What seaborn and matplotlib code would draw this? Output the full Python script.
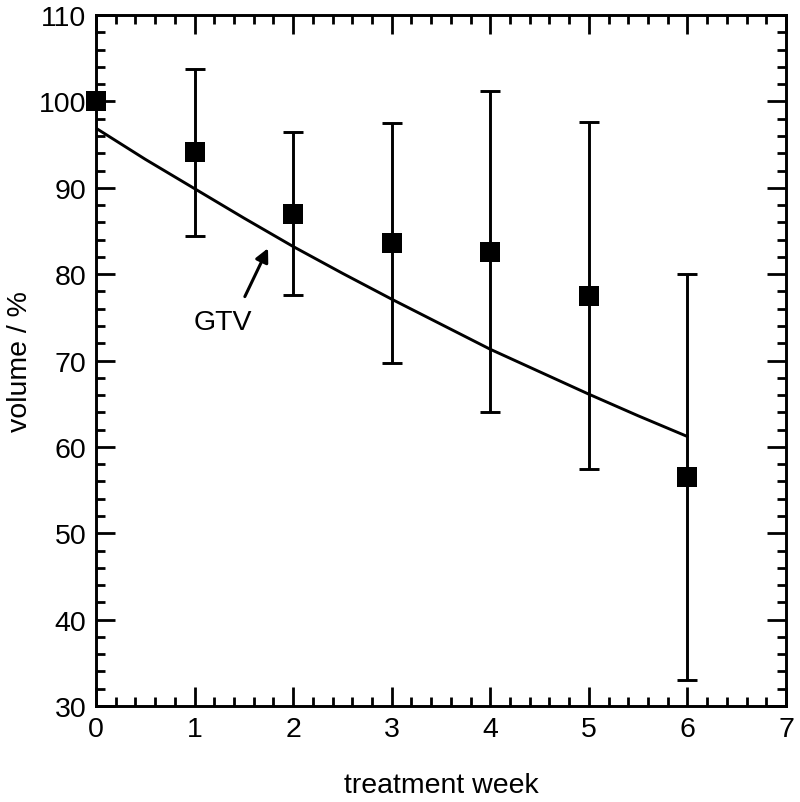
import numpy as np
import pandas as pd
import matplotlib
matplotlib.use("Agg")
import matplotlib.pyplot as plt
import seaborn as sns
from matplotlib.ticker import MultipleLocator

# measured GTV volume per treatment week (mean and +/- spread)
weeks = [0, 1, 2, 3, 4, 5, 6]
volume = [100.0, 94.1, 87.0, 83.6, 82.6, 77.5, 56.5]
spread = [0.0, 9.7, 9.45, 13.85, 18.6, 20.1, 23.5]

# fitted curve
fit_weeks = [0, 0.5, 1, 1.5, 2, 2.5, 3, 3.5, 4, 4.5, 5, 5.5, 6]
fit_volume = [96.9, 93.3, 89.9, 86.5, 83.2, 80.1, 77.1, 74.2, 71.3, 68.7, 66.1, 63.6, 61.2]

df = pd.DataFrame({"week": weeks, "volume": volume, "spread": spread})
fit = pd.DataFrame({"week": fit_weeks, "volume": fit_volume})

sns.set_style("ticks", {"text.color": "black", "axes.labelcolor": "black",
                        "xtick.color": "black", "ytick.color": "black",
                        "axes.edgecolor": "black"})
plt.rcParams["font.family"] = ["Liberation Sans", "DejaVu Sans"]

fig = plt.figure(figsize=(8, 8.03), dpi=100)
ax = fig.add_axes([0.12, 0.1196, 0.8625, 0.8604])

sns.lineplot(data=fit, x="week", y="volume", ax=ax, color="black", linewidth=2.1)

# error bars (week 0 has none)
err = df[df["spread"] > 0]
ax.errorbar(err["week"], err["volume"], yerr=err["spread"], fmt="none",
            ecolor="black", elinewidth=2.1, capsize=7, capthick=2.1)

sns.scatterplot(data=df, x="week", y="volume", ax=ax, marker="s", s=196,
                color="black", linewidth=0, zorder=5, clip_on=False)

# label with arrow pointing at the curve
ax.text(1.29, 74.5, "GTV", fontsize=20.5, ha="center", va="center", color="black")
ax.annotate("", xy=(1.745, 83.0), xytext=(1.51, 77.4),
            arrowprops=dict(arrowstyle="-|>", color="black", lw=2.2,
                            mutation_scale=20, shrinkA=0, shrinkB=0))

ax.set_xlim(0, 7)
ax.set_ylim(30, 110)
ax.xaxis.set_major_locator(MultipleLocator(1))
ax.xaxis.set_minor_locator(MultipleLocator(0.2))
ax.yaxis.set_major_locator(MultipleLocator(10))
ax.yaxis.set_minor_locator(MultipleLocator(2))

ax.tick_params(which="both", direction="in", top=True, right=True,
               width=2.0, labelsize=20.5, pad=7, colors="black")
ax.tick_params(which="major", length=13.5)
ax.tick_params(which="minor", length=6.5)
for sp in ax.spines.values():
    sp.set_linewidth(2.1)
    sp.set_color("black")

ax.set_xlabel("treatment week", fontsize=20.5, labelpad=22)
ax.set_ylabel("volume / %", fontsize=20.5, labelpad=4)

fig.savefig("out.png", dpi=100)
